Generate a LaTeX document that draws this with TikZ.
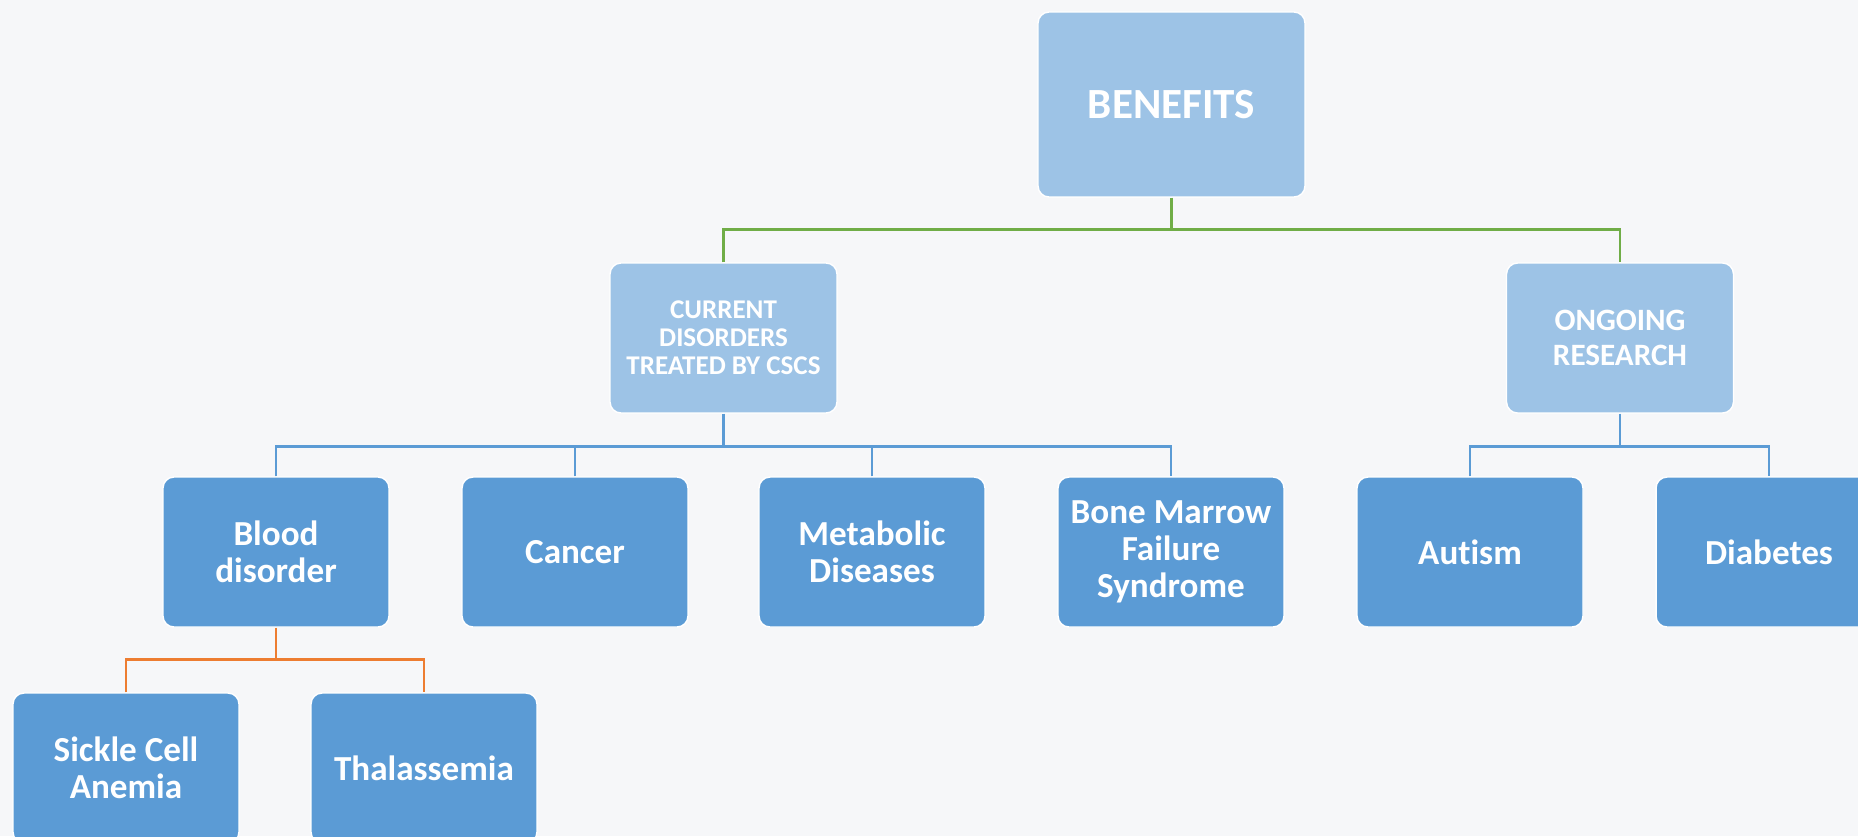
\documentclass[tikz,border=0pt]{standalone}
\usepackage{fontspec}
\setmainfont[Ligatures=NoCommon]{Carlito}
\usepackage{xcolor}
\definecolor{lightbox}{HTML}{9DC3E6}
\definecolor{darkbox}{HTML}{5B9BD5}
\definecolor{linegreen}{HTML}{70AD47}
\definecolor{lineorange}{HTML}{ED7D31}
\definecolor{bgpaper}{HTML}{F6F7F9}

\begin{document}
\begin{tikzpicture}[x=0.02cm, y=-0.02cm,
  box/.style={draw=white, line width=0.8pt, rounded corners=0.22cm, text=white, align=center, inner sep=0pt},
  headbox/.style={box, fill=lightbox, minimum width=5.34cm, minimum height=3.7cm, font=\bfseries\fontsize{24.5}{28}\selectfont},
  midbox/.style={box, fill=lightbox, minimum width=4.54cm, minimum height=3cm},
  leafbox/.style={box, fill=darkbox, minimum width=4.52cm, minimum height=3cm, font=\bfseries\fontsize{20}{21}\selectfont},
  link/.style={line width=1.6pt, draw=#1}]
  % Clip to the slide and paint the pale background
  \clip (0,0) rectangle (1858,836);
  \fill[bgpaper] (0,0) rectangle (1858,836);

  % Top of the tree
  \node[headbox] (benefits) at (1171.5,104.5) {BENEFITS};

  % Second row
  \node[midbox, font=\bfseries\fontsize{15.4}{16}\selectfont] (current) at (723.5,338) {CURRENT\\DISORDERS\\TREATED BY CSCS};
  \node[midbox, font=\bfseries\fontsize{17.7}{20}\selectfont] (ongoing) at (1620,338) {ONGOING\\RESEARCH};

  % Third row
  \node[leafbox] (blood) at (276,552) {Blood\\disorder};
  \node[leafbox] (cancer) at (575,552) {Cancer};
  \node[leafbox] (metabolic) at (872,552) {Metabolic\\Diseases};
  \node[leafbox] (marrow) at (1171,552) {Bone Marrow\\Failure\\Syndrome};
  \node[leafbox] (autism) at (1470,552) {Autism};
  \node[leafbox] (diabetes) at (1769,552) {Diabetes};

  % Fourth row
  \node[leafbox] (sickle) at (126,768) {Sickle Cell\\Anemia};
  \node[leafbox] (thal) at (424,768) {Thalassemia};

  % Connectors
  \draw[link=linegreen] (benefits.south) -- ++(0,32) coordinate (gbus);
  \draw[link=linegreen] (current.north) |- (gbus) -| (ongoing.north);

  \draw[link=darkbox] (current.south) -- ++(0,33) coordinate (cbus);
  \draw[link=darkbox] (blood.north) |- (cbus) -| (marrow.north);
  \draw[link=darkbox] (cancer.north) -- (cancer.north |- cbus);
  \draw[link=darkbox] (metabolic.north) -- (metabolic.north |- cbus);

  \draw[link=darkbox] (ongoing.south) -- ++(0,33) coordinate (obus);
  \draw[link=darkbox] (autism.north) |- (obus) -| (diabetes.north);

  \draw[link=lineorange] (blood.south) -- ++(0,32) coordinate (bbus);
  \draw[link=lineorange] (sickle.north) |- (bbus) -| (thal.north);
\end{tikzpicture}
\end{document}
